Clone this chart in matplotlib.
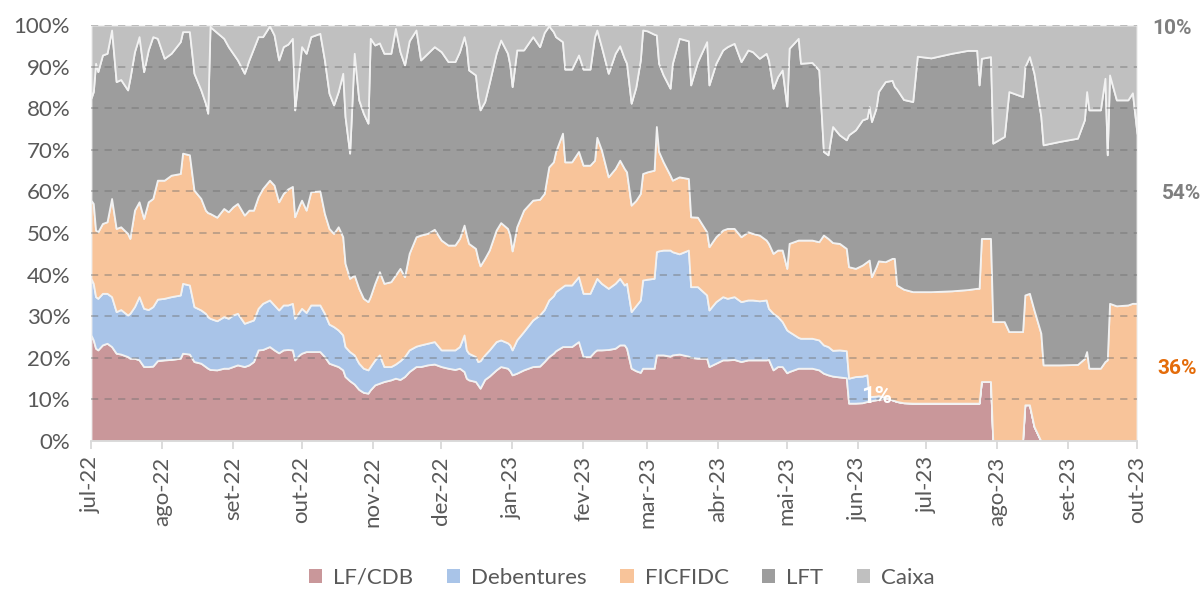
import pandas as pd
import matplotlib.pyplot as plt
from matplotlib.patches import Patch

plt.rcParams['font.family'] = ['Lato', 'DejaVu Sans']

# === Data ===
# day offset from 2022-07-01
days = [0, 1, 2, 3, 5, 7, 9, 11, 13, 16, 17, 19, 21, 23, 25, 27, 29, 32, 35, 39,
        40, 43, 45, 48, 50, 51, 52, 55, 58, 60, 62, 64, 67, 69, 71, 73,
        75, 78, 80, 82, 84, 86, 88, 89, 91, 92, 94, 96, 100, 102, 104, 106, 108, 110, 111, 113,
        115, 117, 119, 121, 122, 124, 126, 128, 131, 133, 135, 137, 139, 142, 144, 147, 150,
        153, 156, 159, 161, 163, 164, 165, 168, 169, 170, 172, 174, 177, 179, 182, 183, 184, 186,
        189, 193, 196, 198, 200, 202, 203, 206, 207, 210, 213, 215, 218, 220, 221, 223, 226,
        229, 231, 233, 234, 236, 238, 240, 241, 243, 246, 247, 248, 250, 253, 254, 257, 261, 262,
        265, 269, 270, 273, 276, 278, 281, 284, 287, 289, 292, 295, 296, 298, 300, 302, 304,
        305, 309, 310, 315, 318, 320, 322, 324, 327, 330, 331, 334, 337, 339, 340, 341, 343, 344,
        347, 350, 351, 352, 355, 359, 361, 367, 376,
        383, 387, 388, 389, 393, 394, 399, 401, 407, 408, 410, 412, 415, 416, 423, 431, 434, 435,
        436, 441, 443, 444, 445, 448, 453, 455, 457]

# stacked level (%) at the top of each band
lf_top = [25.5, 24.3, 22.3, 21.9, 23.1, 23.5, 22.7, 21.1, 20.9, 20.3, 19.9, 19.9, 19.5, 17.9, 17.9, 18.0, 19.3, 19.5, 19.6, 19.9,
          21.1, 20.9, 19.1, 18.7, 17.9, 17.5, 17.2, 17.1, 17.5, 17.5, 17.9, 18.3, 17.9, 18.3, 19.1, 21.9,
          22.0, 22.7, 21.9, 21.2, 21.9, 22.0, 21.9, 19.5, 20.7, 21.1, 21.5, 21.5, 21.5, 20.3, 18.7, 18.3, 17.9, 17.1, 15.5, 14.5,
          13.7, 12.4, 11.7, 11.5, 12.3, 13.5, 13.9, 14.3, 14.7, 15.1, 14.8, 15.5, 16.7, 17.9, 17.9, 18.3, 18.5,
          17.9, 17.5, 17.2, 17.5, 16.7, 15.1, 14.7, 14.3, 13.5, 12.7, 14.8, 15.6, 17.1, 17.9, 17.5, 16.9, 15.9, 16.3,
          17.1, 17.9, 18.0, 19.1, 20.3, 21.1, 21.7, 22.7, 22.7, 22.7, 23.9, 20.3, 20.3, 21.5, 21.9, 21.9, 22.0,
          22.3, 23.1, 23.1, 22.3, 17.5, 16.9, 16.5, 17.5, 17.5, 17.5, 20.7, 20.7, 20.7, 20.4, 20.7, 20.9, 20.4, 20.1,
          19.9, 19.9, 17.9, 18.7, 19.5, 19.5, 19.6, 19.1, 19.5, 19.5, 19.5, 19.5, 19.6, 17.1, 17.9, 17.9, 16.4,
          16.7, 17.5, 17.5, 17.5, 17.1, 16.3, 15.9, 15.6, 15.4, 15.2, 9.1, 9.1, 9.2, 9.5, 9.5, 9.7, 9.9, 10.0,
          10.3, 9.9, 9.7, 9.5, 9.2, 9.1, 9.1, 9.1, 9.1,
          9.1, 9.1, 9.1, 14.3, 14.3, 0, 0, 0, 0, 8.7, 8.7, 3.5, 0, 0, 0, 0, 0, 0,
          0, 0, 0, 0, 0, 0, 0, 0, 0]
deb_top = [39.1, 37.9, 34.7, 34.3, 35.5, 35.5, 34.7, 31.1, 31.6, 30.3, 30.7, 32.3, 34.7, 31.9, 31.6, 32.3, 34.1, 34.3, 34.7, 35.1,
           37.9, 37.5, 32.3, 31.5, 30.7, 29.9, 29.5, 28.9, 29.9, 29.5, 30.3, 30.7, 28.3, 28.7, 29.1, 31.9,
           33.1, 33.9, 32.7, 31.5, 32.7, 32.7, 33.1, 29.5, 31.1, 31.9, 30.9, 32.7, 32.7, 30.7, 28.1, 27.5, 26.7, 25.5, 22.7, 21.5,
           20.7, 18.7, 17.5, 17.1, 17.9, 19.5, 20.7, 17.9, 17.9, 18.5, 19.3, 20.3, 21.9, 22.8, 23.1, 23.5, 23.9,
           21.9, 21.9, 21.9, 22.7, 25.5, 21.9, 21.1, 20.3, 19.1, 19.3, 20.7, 21.9, 23.9, 24.3, 23.6, 23.1, 21.9, 24.3,
           26.3, 29.1, 30.3, 31.6, 33.9, 34.9, 35.9, 37.1, 37.5, 37.5, 39.5, 35.5, 35.5, 37.9, 39.1, 37.9, 36.7,
           37.9, 39.1, 37.5, 37.9, 31.1, 32.5, 33.9, 38.7, 38.9, 39.1, 45.5, 45.7, 45.9, 45.9, 45.5, 45.0, 45.9, 37.1,
           37.1, 35.1, 31.5, 33.5, 34.7, 34.3, 34.7, 33.5, 33.9, 33.9, 33.7, 33.9, 31.9, 30.7, 29.9, 28.7, 26.7,
           26.3, 24.9, 24.7, 24.7, 24.3, 23.1, 22.7, 21.8, 21.9, 21.7, 15.1, 15.5, 15.6, 15.9, 10.7, 10.7, 10.8, 10.9,
           10.5, 9.9, 9.7, 9.5, 9.2, 9.1, 9.1, 9.1, 9.1,
           9.1, 9.1, 9.1, 14.3, 14.3, 0, 0, 0, 0, 8.7, 8.7, 3.5, 0, 0, 0, 0, 0, 0,
           0, 0, 0, 0, 0, 0, 0, 0, 0]
fic_top = [57.9, 57.1, 50.7, 50.3, 52.3, 52.7, 58.3, 51.1, 51.5, 49.9, 48.7, 55.5, 57.5, 53.5, 57.5, 58.3, 62.7, 62.7, 63.9, 64.3,
           69.2, 68.8, 60.3, 58.3, 55.5, 54.9, 54.7, 53.8, 55.9, 55.1, 56.3, 57.1, 54.3, 55.5, 55.5, 58.7,
           60.7, 62.7, 61.5, 57.5, 59.5, 60.6, 61.2, 53.9, 56.7, 57.9, 55.5, 59.9, 60.1, 54.7, 51.1, 49.9, 51.5, 49.1, 42.7, 39.1,
           39.9, 36.7, 34.3, 33.5, 34.7, 37.9, 40.7, 37.9, 38.3, 39.9, 41.5, 39.5, 45.1, 49.1, 49.5, 49.9, 50.9,
           48.3, 47.1, 47.1, 48.7, 51.9, 49.5, 47.5, 46.3, 43.9, 42.1, 43.9, 45.9, 50.7, 52.5, 51.1, 49.5, 45.7, 51.5,
           55.5, 57.9, 58.1, 59.5, 65.9, 67.1, 69.6, 74.0, 67.1, 67.1, 69.6, 66.3, 66.3, 67.5, 73.0, 70.0, 63.5,
           65.5, 67.5, 65.5, 64.7, 56.7, 57.8, 59.5, 64.3, 64.7, 65.1, 75.6, 69.6, 67.1, 63.9, 62.7, 63.5, 63.1, 53.9,
           53.8, 50.3, 46.7, 49.1, 50.7, 51.1, 51.1, 49.1, 50.3, 49.9, 49.5, 48.3, 47.5, 45.1, 45.9, 45.9, 41.5,
           47.5, 48.3, 48.3, 48.3, 47.9, 49.5, 48.7, 47.7, 47.5, 46.3, 41.9, 41.5, 42.3, 43.1, 43.5, 39.5, 41.9, 43.3,
           43.1, 43.9, 43.9, 37.5, 36.5, 35.9, 35.9, 35.9, 36.1,
           36.4, 36.7, 36.7, 48.7, 48.7, 28.7, 28.7, 26.3, 26.3, 35.1, 35.5, 31.5, 25.9, 18.3, 18.3, 18.4, 19.8, 21.5,
           17.5, 17.5, 19.1, 19.5, 33.1, 32.5, 32.7, 33.1, 33.1]
lft_top = [82.4, 84.0, 90.8, 88.8, 92.8, 93.2, 98.8, 86.4, 86.9, 84.4, 87.2, 93.6, 97.2, 88.8, 94.0, 97.2, 96.8, 92.0, 93.2, 96.0,
           98.4, 98.4, 88.4, 84.4, 81.2, 78.8, 99.6, 98.2, 96.8, 94.8, 93.2, 91.6, 88.4, 91.6, 94.4, 97.2,
           97.2, 99.8, 97.6, 91.6, 94.8, 95.4, 96.8, 79.6, 89.9, 94.8, 93.2, 97.2, 98.0, 91.6, 83.6, 80.8, 84.0, 88.4, 78.0, 69.2,
           93.2, 82.0, 78.8, 76.4, 96.8, 95.2, 95.7, 93.2, 93.2, 99.2, 93.6, 90.4, 96.2, 98.8, 91.6, 93.2, 94.8,
           93.6, 91.2, 91.2, 93.6, 97.2, 94.8, 89.2, 88.0, 82.8, 79.6, 81.6, 86.1, 93.2, 96.4, 93.2, 90.4, 85.2, 94.0,
           94.0, 97.2, 94.8, 98.2, 99.8, 98.4, 97.2, 96.0, 89.4, 89.4, 92.8, 89.4, 89.4, 97.2, 98.8, 94.8, 88.4,
           93.2, 95.0, 92.0, 90.8, 81.2, 85.0, 91.6, 98.8, 98.6, 97.8, 97.6, 90.8, 88.0, 84.8, 90.8, 96.8, 96.2, 85.6,
           91.2, 96.0, 85.6, 90.8, 94.0, 94.8, 95.6, 91.2, 94.0, 93.6, 92.0, 93.2, 91.6, 84.8, 87.6, 89.2, 80.4,
           94.4, 96.8, 90.8, 91.0, 89.2, 69.6, 68.8, 75.6, 73.6, 72.4, 73.6, 74.8, 77.2, 77.6, 80.4, 76.8, 80.1, 84.0,
           86.4, 86.7, 85.2, 84.6, 82.1, 81.6, 92.5, 92.1, 93.2,
           93.9, 93.9, 85.6, 92.0, 92.4, 71.6, 73.2, 84.0, 82.8, 90.0, 92.4, 88.4, 78.0, 71.2, 72.0, 72.8, 77.2, 84.0,
           79.6, 79.6, 87.2, 68.8, 88.0, 82.0, 82.0, 83.7, 73.9]

series_names = ['LF/CDB', 'Debentures', 'FICFIDC', 'LFT', 'Caixa']
colors = ['#c9979a', '#a9c4e8', '#f8c49a', '#9d9d9d', '#c0c0c0']
month_labels = ['jul-22', 'ago-22', 'set-22', 'out-22', 'nov-22', 'dez-22', 'jan-23', 'fev-23',
                'mar-23', 'abr-23', 'mai-23', 'jun-23', 'jul-23', 'ago-23', 'set-23', 'out-23']
end_labels = ['10%', '54%', '36%']

# === Build the shares from the stacked levels ===
dates = pd.Timestamp('2022-07-01') + pd.to_timedelta(days, unit='D')
df = pd.DataFrame({'lf': lf_top, 'deb': deb_top, 'fic': fic_top, 'lft': lft_top}, index=dates)
shares = [df['lf'],
          df['deb'] - df['lf'],
          df['fic'] - df['deb'],
          df['lft'] - df['fic'],
          100 - df['lft']]

# === Plot ===
fig = plt.figure(figsize=(12.01, 5.91), dpi=100)
ax = fig.add_axes([91 / 1201, 1 - 441 / 591, (1137 - 91) / 1201, (441 - 25) / 591])

ax.stackplot(df.index, *shares, colors=colors, edgecolor='#f2f2f2', linewidth=1.3)

for v in range(10, 101, 10):
    ax.axhline(v, color='#6f6f6f', alpha=0.45, linewidth=1.3, linestyle=(0, (4, 3.5)), zorder=3)

ax.set_xlim(dates[0], dates[-1])
ax.set_ylim(0, 100)
ax.set_yticks(range(0, 101, 10))
ax.set_yticklabels([f'{v}%' for v in range(0, 101, 10)])
month_ticks = pd.date_range('2022-07-01', '2023-10-01', freq='MS')
ax.set_xticks(month_ticks)
ax.set_xticklabels(month_labels, rotation=90)

for s in ['left', 'right', 'top']:
    ax.spines[s].set_visible(False)
ax.spines['bottom'].set_color('#d9d9d9')
ax.spines['bottom'].set_linewidth(1.3)
ax.tick_params(axis='y', length=0, pad=15, labelsize=16, labelcolor='#595959')
ax.tick_params(axis='x', length=6, width=1.3, color='#d9d9d9', pad=5, labelsize=16, labelcolor='#595959')

# labels on the chart
bold = ['Roboto', 'DejaVu Sans']
ax.text(pd.Timestamp('2023-06-09'), 10.6, '1%', color='white', fontsize=17, fontweight='bold',
        family=bold, ha='center', va='center', zorder=4)
fig.text(1152 / 1201, 1 - 28 / 591, end_labels[0], color='#7f7f7f', fontsize=15, fontweight='bold',
         family=bold, va='center')
fig.text(1162 / 1201, 1 - 193 / 591, end_labels[1], color='#7f7f7f', fontsize=15, fontweight='bold',
         family=bold, va='center')
fig.text(1157 / 1201, 1 - 368 / 591, end_labels[2], color='#e46c0a', fontsize=15, fontweight='bold',
         family=bold, va='center')

handles = [Patch(facecolor=c, edgecolor='none') for c in colors]
fig.legend(handles, series_names, loc='center', bbox_to_anchor=(622 / 1201, 1 - 578 / 591), ncol=5,
           frameon=False, fontsize=16, labelcolor='#595959', handlelength=0.6, handleheight=0.6,
           handletextpad=0.5, columnspacing=1.5)

plt.savefig('out.png', dpi=100)
